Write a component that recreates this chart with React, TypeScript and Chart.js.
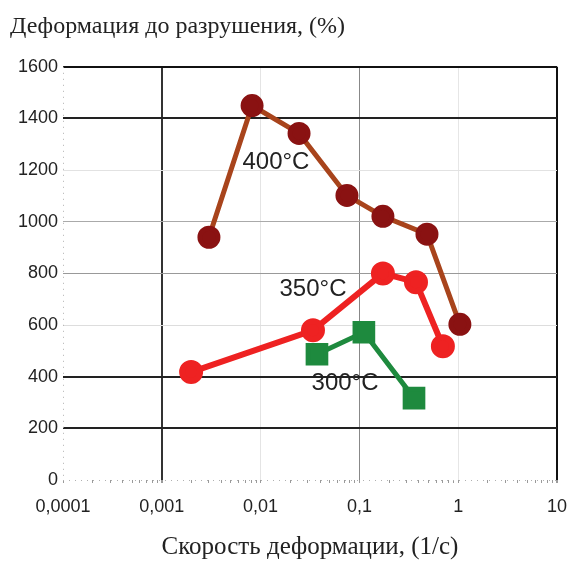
import { useEffect, useRef } from 'react';
import { Chart, registerables } from 'chart.js';

Chart.register(...registerables);

const chartTitle = 'Деформация до разрушения, (%)';
const xAxisTitle = 'Скорость деформации, (1/с)';

const xMajorValues = [0.0001, 0.001, 0.01, 0.1, 1, 10];
const xMajorLabels = ['0,0001', '0,001', '0,01', '0,1', '1', '10'];
const yTickValues = [0, 200, 400, 600, 800, 1000, 1200, 1400, 1600];

const rate400 = [0.003, 0.0082, 0.0245, 0.0748, 0.173, 0.483, 1.04];
const def400 = [940, 1450, 1342, 1102, 1021, 952, 603];
const rate350 = [0.00198, 0.0339, 0.173, 0.374, 0.7];
const def350 = [418, 580, 800, 766, 518];
const rate300 = [0.0372, 0.111, 0.357];
const def300 = [487, 572, 317];

const seriesNames = ['400°C', '350°C', '300°C'];
const labelRates = [0.0143, 0.0339, 0.0716];
const labelDefs = [1230, 739, 375];

const xGridColors: Record<string, string> = {
  '0.0001': 'rgba(0,0,0,0)',
  '0.001': '#333333',
  '0.01': '#e4e4e4',
  '0.1': '#888888',
  '1': '#e6e6e6',
  '10': '#111111',
};
const yGridColors: Record<string, string> = {
  '0': 'rgba(0,0,0,0)',
  '200': '#222222',
  '400': '#222222',
  '600': '#dddddd',
  '800': '#999999',
  '1000': '#aaaaaa',
  '1200': '#e2e2e2',
  '1400': '#222222',
  '1600': '#111111',
};

const toPoints = (xs: number[], ys: number[]) => xs.map((x, i) => ({ x, y: ys[i] }));

const keyOf = (v: number) => {
  const m = xMajorValues.find((mm) => Math.abs(mm - v) / mm < 1e-6);
  return m === undefined ? '' : String(m);
};

const seriesLabelPlugin = {
  id: 'seriesLabels',
  beforeDatasetsDraw(chart: any) {
    const { ctx, chartArea } = chart;
    ctx.save();
    ctx.strokeStyle = '#b0b0b0';
    ctx.lineWidth = 1;
    ctx.setLineDash([1, 5]);
    ctx.beginPath();
    ctx.moveTo(chartArea.left + 0.5, chartArea.top);
    ctx.lineTo(chartArea.left + 0.5, chartArea.bottom);
    ctx.moveTo(chartArea.left, chartArea.bottom + 0.5);
    ctx.lineTo(chartArea.right, chartArea.bottom + 0.5);
    ctx.stroke();
    ctx.restore();
  },
  afterDatasetsDraw(chart: any) {
    const { ctx } = chart;
    const xs = chart.scales.x;
    const ys = chart.scales.y;
    ctx.save();
    ctx.font = '24px "Liberation Sans", Arial, sans-serif';
    ctx.fillStyle = '#222222';
    ctx.textAlign = 'center';
    ctx.textBaseline = 'middle';
    seriesNames.forEach((name, i) => {
      ctx.fillText(name, xs.getPixelForValue(labelRates[i]), ys.getPixelForValue(labelDefs[i]));
    });
    ctx.restore();
  },
};

export default function App() {
  const canvasRef = useRef<HTMLCanvasElement | null>(null);

  useEffect(() => {
    if (!canvasRef.current) return;
    const chart = new Chart(canvasRef.current, {
      type: 'line',
      data: {
        datasets: [
          {
            label: seriesNames[0],
            data: toPoints(rate400, def400),
            borderColor: '#a8441c',
            borderWidth: 5,
            pointBackgroundColor: '#8a1212',
            pointBorderColor: '#8a1212',
            pointRadius: 9,
            pointStyle: 'circle',
            tension: 0,
          },
          {
            label: seriesNames[1],
            data: toPoints(rate350, def350),
            borderColor: '#ee2222',
            borderWidth: 6,
            pointBackgroundColor: '#ee2222',
            pointBorderColor: '#ee2222',
            pointRadius: 9,
            pointStyle: 'circle',
            tension: 0,
          },
          {
            label: seriesNames[2],
            data: toPoints(rate300, def300),
            borderColor: '#1e8a3e',
            borderWidth: 5,
            pointBackgroundColor: '#1e8a3e',
            pointBorderColor: '#1e8a3e',
            pointRadius: 12.5,
            pointStyle: 'rect',
            tension: 0,
          },
        ],
      },
      options: {
        animation: false,
        responsive: false,
        layout: { padding: { left: 10, right: 18, top: 0, bottom: 0 } },
        plugins: {
          legend: { display: false },
          tooltip: { enabled: false },
          title: {
            display: true,
            text: chartTitle,
            align: 'start',
            color: '#222222',
            font: { family: '"Liberation Serif", "Times New Roman", serif', size: 24, weight: 'normal' },
            padding: { top: 12, bottom: 26 },
          },
        },
        scales: {
          x: {
            type: 'logarithmic',
            min: 0.0001,
            max: 10,
            afterBuildTicks: (scale: any) => {
              const ticks: { value: number }[] = [];
              for (let e = -4; e <= 0; e++) {
                for (let n = 1; n <= 9; n++) ticks.push({ value: n * Math.pow(10, e) });
              }
              ticks.push({ value: 10 });
              scale.ticks = ticks;
            },
            afterFit: (scale: any) => {
              scale.height = 82;
              scale.paddingRight = 0;
              scale.paddingLeft = 0;
            },
            ticks: {
              autoSkip: false,
              maxRotation: 0,
              padding: 13,
              color: '#222222',
              font: { family: '"Liberation Sans", Arial, sans-serif', size: 18 },
              callback: (value: any) => {
                const v = Number(value);
                const idx = xMajorValues.findIndex((m) => Math.abs(m - v) / m < 1e-6);
                return idx >= 0 ? xMajorLabels[idx] : '';
              },
            },
            grid: {
              color: (ctx: any) => {
                const k = keyOf(ctx.tick ? ctx.tick.value : 0);
                return k ? xGridColors[k] : 'rgba(0,0,0,0)';
              },
              lineWidth: (ctx: any) => {
                const k = keyOf(ctx.tick ? ctx.tick.value : 0);
                return k === '0.001' || k === '10' ? 2 : 1;
              },
              drawTicks: true,
              tickLength: 3,
              tickColor: '#9a9a9a',
            },
            border: { display: false },
            title: {
              display: true,
              text: xAxisTitle,
              color: '#222222',
              font: { family: '"Liberation Serif", "Times New Roman", serif', size: 25, weight: 'normal' },
              padding: { top: 0, bottom: 0 },
            },
          },
          y: {
            type: 'linear',
            min: 0,
            max: 1600,
            afterBuildTicks: (scale: any) => {
              scale.ticks = yTickValues.map((value) => ({ value }));
            },
            afterFit: (scale: any) => {
              scale.width = 53;
            },
            ticks: {
              padding: 5,
              color: '#222222',
              font: { family: '"Liberation Sans", Arial, sans-serif', size: 18 },
              callback: (value: any) => String(value),
            },
            grid: {
              color: (ctx: any) => yGridColors[String(ctx.tick ? ctx.tick.value : 0)] || 'rgba(0,0,0,0)',
              lineWidth: (ctx: any) => {
                const v = ctx.tick ? ctx.tick.value : 0;
                return v === 200 || v === 400 || v === 1400 || v === 1600 ? 2 : 1;
              },
              drawTicks: false,
            },
            border: { display: false },
          },
        },
      },
      plugins: [seriesLabelPlugin],
    } as any);
    return () => chart.destroy();
  }, []);

  return (
    <div style={{ position: 'absolute', left: 0, top: 0, width: 575, height: 562, background: '#ffffff' }}>
      <canvas ref={canvasRef} width={575} height={562} style={{ display: 'block' }} />
    </div>
  );
}
